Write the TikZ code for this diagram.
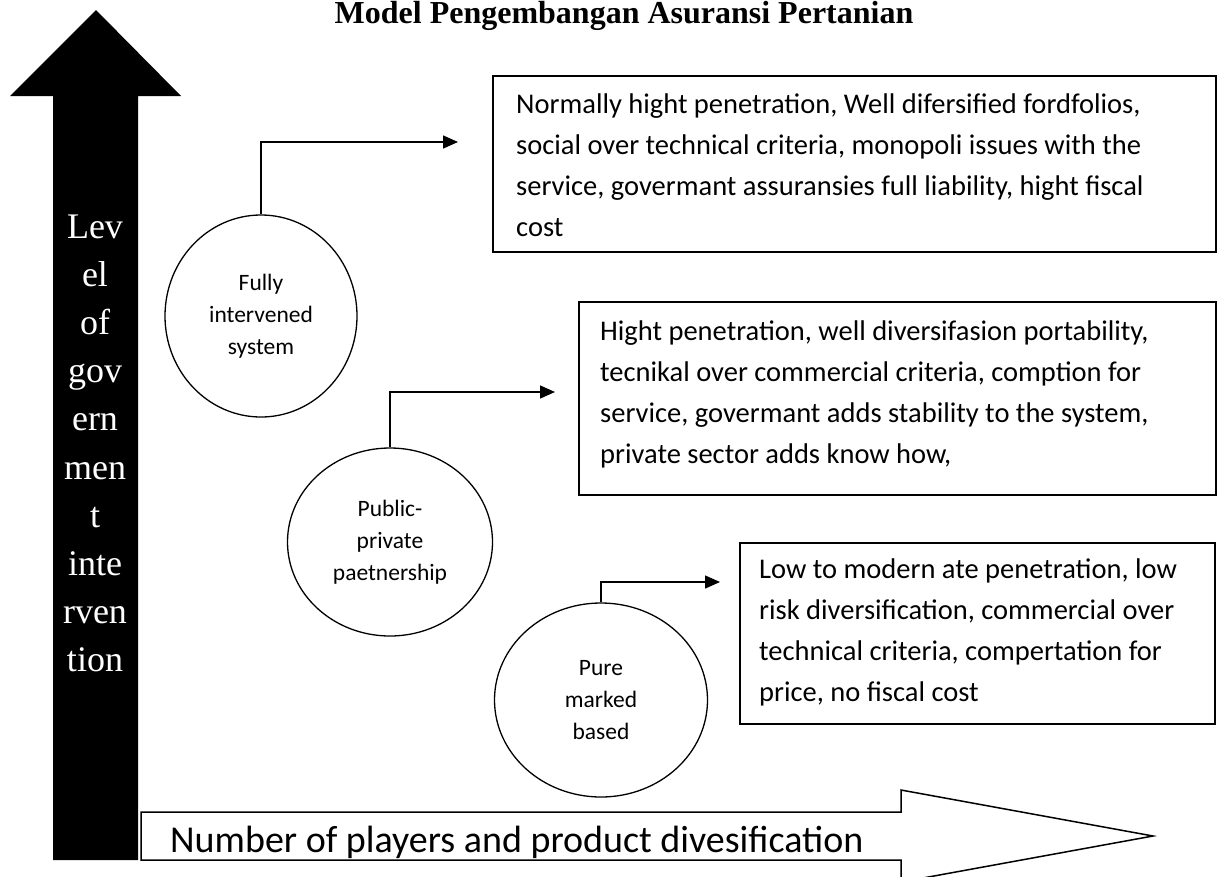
\documentclass[tikz,border=0pt]{standalone}
\usepackage{fontspec}
\setmainfont{Liberation Serif}
\newfontfamily\calibri{Carlito}
\usetikzlibrary{arrows.meta,shapes.geometric}

\tikzset{
  bubble/.style={draw, ellipse, line width=1.3pt, inner sep=0pt, align=center,
    font=\calibri\fontsize{23.5}{32}\selectfont},
  infobox/.style={draw, rectangle, line width=1.5pt, inner sep=0pt, anchor=north west},
  infotext/.style={anchor=base west, inner sep=0pt, text width=#1, align=flush left,
    font=\calibri\fontsize{28.5}{41}\selectfont},
  link/.style={line width=1.5pt, -{Triangle[length=15pt,width=13pt]}},
  vtext/.style={anchor=base, text=white, inner sep=0pt, font=\fontsize{36}{40}\selectfont}
}

\begin{document}
\begin{tikzpicture}[x=1pt, y=-1pt]
		%%%%% START %%%%%
		\useasboundingbox (0,0) rectangle (1223,876);
		
		\node[anchor=base, inner sep=0pt, font=\bfseries\fontsize{32}{36}\selectfont] (title) at (624,23) {Model Pengembangan Asuransi Pertanian};
		
		% level of intervention
		\fill[black] (96,10) -- (181,96) -- (138,96) -- (138,860) -- (53,860) -- (53,96) -- (10,96) -- cycle;
		\foreach \w [count=\i from 0] in {Lev,el,of,gov,ern,men,t,inte,rven,tion}
			\node[vtext] (lvl\i) at (95,{238+48.2*\i}) {\w};
		
		% players axis
		\draw[line width=1.5pt, fill=white] (141,812) -- (901,812) -- (901,790) -- (1153,836) -- (901,882) -- (901,860) -- (141,860) -- cycle;
		\begin{scope}
			\clip (141,812) rectangle (901,859);
			\node[anchor=base west, inner sep=0pt, font=\calibri\fontsize{38}{40}\selectfont] (players) at (170,852) {Number of players and product divesification};
		\end{scope}
		
		\node[bubble, minimum width=192pt, minimum height=202pt] (fully) at (261,316) {Fully\\intervened\\system};
		\node[bubble, minimum width=205pt, minimum height=188pt] (ppp) at (390,542) {Public-\\private\\paetnership};
		\node[bubble, minimum width=213pt, minimum height=194pt] (pure) at (601,700) {Pure\\marked\\based};
		
		\node[infobox, minimum width=723pt, minimum height=176pt] (box1) at (492,75) {};
		\node[infotext=690pt] (txt1) at (516,113) {Normally hight penetration, Well difersified fordfolios,\\social over technical criteria, monopoli issues with the\\service, govermant assuransies full liability, hight fiscal\\cost};
		
		\node[infobox, minimum width=637pt, minimum height=193pt] (box2) at (578,301) {};
		\node[infotext=610pt] (txt2) at (600,340) {Hight penetration, well diversifasion portability,\\tecnikal over commercial criteria, comption for\\service, govermant adds stability to the system,\\private sector adds know how,};
		
		\node[infobox, minimum width=475pt, minimum height=181pt] (box3) at (739,542) {};
		\node[infotext=452pt] (txt3) at (759,578) {Low to modern ate penetration, low\\risk diversification, commercial over\\technical criteria, compertation for\\price, no fiscal cost};
		
		\coordinate (tip1) at (458,142);
		\coordinate (tip2) at (555,392);
		\coordinate (tip3) at (720,582);
		\draw[link] (fully.north) |- (tip1);
		\draw[link] (ppp.north) |- (tip2);
		\draw[link] (pure.north) |- (tip3);
		%%%%% END %%%%%
\end{tikzpicture}
\end{document}
